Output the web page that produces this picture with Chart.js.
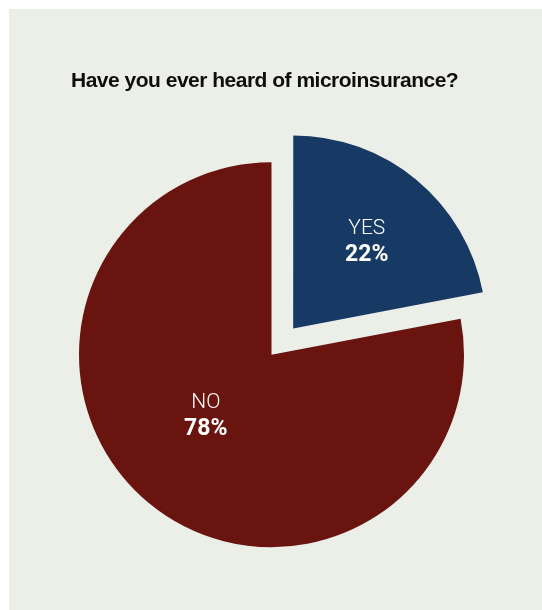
<!DOCTYPE html>
<html><head><meta charset="utf-8">
<script src="https://cdn.jsdelivr.net/npm/chart.js@4/dist/chart.umd.min.js"></script>
<style>
html,body{margin:0;padding:0;background:#fff;width:542px;height:610px;overflow:hidden;}
#panel{position:absolute;left:9px;top:9px;width:533px;height:601px;background:#eceee8;}
canvas{display:block;}
</style></head><body>
<div id="panel"><canvas id="c" width="533" height="601"></canvas></div>
<script>
const titleText = 'Have you ever heard of microinsurance?';
const categories = ['YES', 'NO'];
const percentages = [22, 78];
const sliceColors = ['#173a65', '#69140f'];
const sliceOffsets = [136, 0];

const tightTitle = {
  id: 'tightTitle',
  beforeDraw(chart) {
    if ('letterSpacing' in chart.ctx) chart.ctx.letterSpacing = '-0.5px';
  },
  beforeDatasetsDraw(chart) {
    if ('letterSpacing' in chart.ctx) chart.ctx.letterSpacing = '0px';
  }
};

const sliceLabels = {
  id: 'sliceLabels',
  afterDatasetsDraw(chart, args, opts) {
    const ctx = chart.ctx;
    const meta = chart.getDatasetMeta(0);
    meta.data.forEach((arc, i) => {
      const p = arc.getProps(['x', 'y', 'startAngle', 'endAngle', 'outerRadius'], true);
      const off = (arc.options.offset || 0) / 4;
      const mid = (p.startAngle + p.endAngle) / 2;
      const cx = p.x + Math.cos(mid) * off, cy = p.y + Math.sin(mid) * off;
      const a = p.startAngle + (p.endAngle - p.startAngle) * opts.angleFrac[i];
      const r = p.outerRadius * opts.radiusFrac[i];
      const lx = cx + Math.cos(a) * r, ly = cy + Math.sin(a) * r;
      ctx.save();
      if ('letterSpacing' in ctx) ctx.letterSpacing = '0px';
      ctx.fillStyle = '#ffffff';
      ctx.textAlign = 'center';
      ctx.textBaseline = 'alphabetic';
      ctx.font = '300 21px Roboto';
      ctx.fillText(chart.data.labels[i], lx, ly - 5.5);
      ctx.font = 'bold 23px Roboto';
      ctx.fillText(chart.data.datasets[0].data[i] + '%', lx, ly + 21.5);
      ctx.restore();
    });
  }
};

new Chart(document.getElementById('c'), {
  type: 'pie',
  data: {
    labels: categories,
    datasets: [{
      data: percentages,
      backgroundColor: sliceColors,
      borderWidth: 0,
      offset: sliceOffsets,
      hoverOffset: 0,
      clip: false
    }]
  },
  options: {
    responsive: false,
    animation: false,
    events: [],
    radius: 192.5,
    layout: { padding: { left: 62, right: 70, top: 0, bottom: 0 } },
    plugins: {
      legend: { display: false },
      tooltip: { enabled: false },
      title: {
        display: true,
        text: titleText,
        align: 'start',
        color: '#0d0d0d',
        font: { family: 'Liberation Sans', weight: 'bold', size: 21, lineHeight: 1.2 },
        padding: { top: 59.9, bottom: 5.3 }
      },
      sliceLabels: {
        angleFrac: [0.5, 0.531],
        radiusFrac: [0.6, 0.457]
      }
    }
  },
  plugins: [tightTitle, sliceLabels]
});
</script>
</body></html>
